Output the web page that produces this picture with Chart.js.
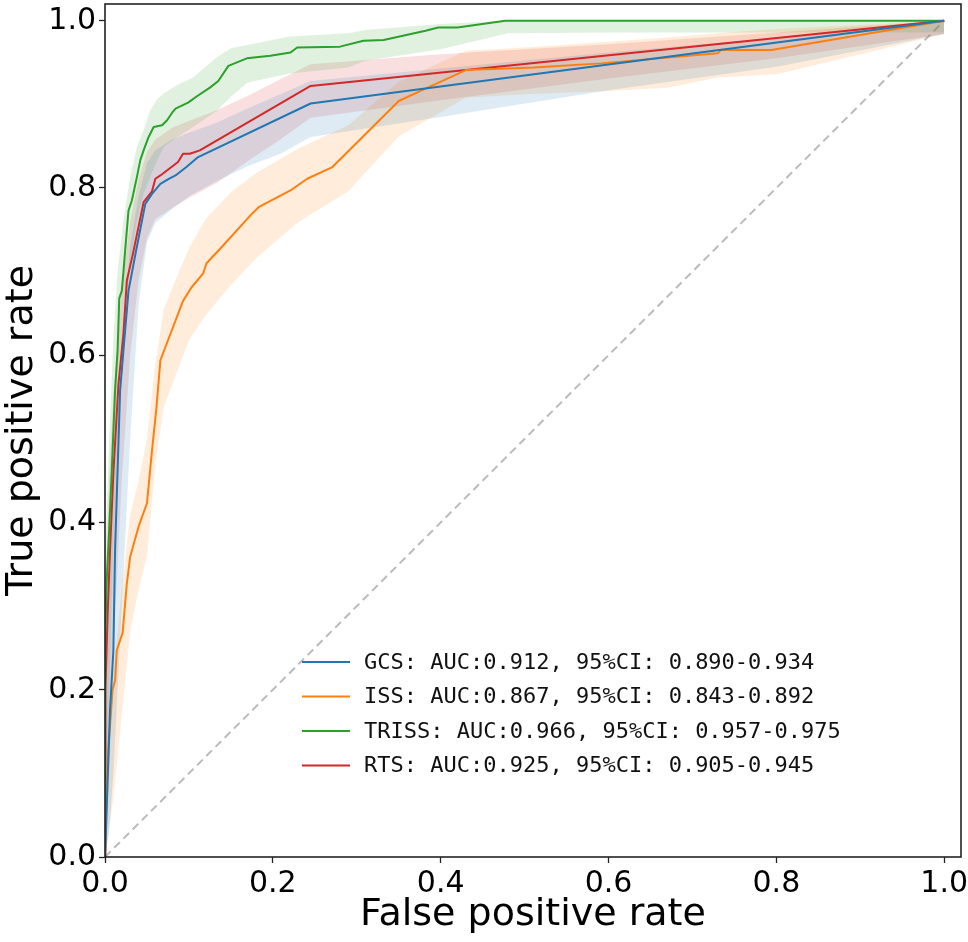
<!DOCTYPE html>
<html>
<head>
<meta charset="utf-8">
<script src="https://cdn.jsdelivr.net/npm/chart.js@4.4.1/dist/chart.umd.min.js"></script>
<style>
  html, body { margin: 0; padding: 0; background: #ffffff; }
  #wrap { width: 968px; height: 942px; }
  canvas { display: block; }
</style>
</head>
<body>
<div id="wrap"><canvas id="roc" width="968" height="942" style="width:968px;height:942px"></canvas></div>
<script>
// ---------- data ----------
const seriesNames = ['GCS', 'ISS', 'TRISS', 'RTS'];
const legendLabels = [
  'GCS: AUC:0.912, 95%CI: 0.890-0.934',
  'ISS: AUC:0.867, 95%CI: 0.843-0.892',
  'TRISS: AUC:0.966, 95%CI: 0.957-0.975',
  'RTS: AUC:0.925, 95%CI: 0.905-0.945'
];
const seriesColors = ['#1f77b4', '#ff7f0e', '#2ca02c', '#d62728'];

// mean ROC curves
const gcsFpr = [0, 0.002, 0.003, 0.006, 0.010, 0.012, 0.018, 0.022, 0.028, 0.037, 0.048, 0.056, 0.066, 0.076, 0.084, 0.097, 0.111, 0.245, 0.732, 1.0];
const gcsTpr = [0, 0.056, 0.088, 0.176, 0.247, 0.367, 0.558, 0.606, 0.677, 0.725, 0.781, 0.793, 0.805, 0.811, 0.815, 0.825, 0.837, 0.901, 0.965, 1.0];

const issFpr = [0, 0.002, 0.004, 0.009, 0.012, 0.014, 0.021, 0.026, 0.030, 0.040, 0.050, 0.056, 0.061, 0.064, 0.066, 0.093, 0.103, 0.117, 0.121, 0.135, 0.175, 0.183, 0.221, 0.241, 0.271, 0.350, 0.380, 0.430, 0.511, 0.591, 0.730, 0.734, 0.794, 1.0];
const issTpr = [0, 0.088, 0.128, 0.200, 0.211, 0.247, 0.268, 0.327, 0.359, 0.395, 0.423, 0.486, 0.534, 0.570, 0.594, 0.665, 0.681, 0.698, 0.710, 0.725, 0.769, 0.777, 0.797, 0.811, 0.825, 0.904, 0.918, 0.941, 0.944, 0.949, 0.961, 0.965, 0.965, 1.0];

const trissFpr = [0, 0, 0.002, 0.004, 0.008, 0.012, 0.015, 0.017, 0.020, 0.022, 0.024, 0.028, 0.032, 0.038, 0.042, 0.046, 0.052, 0.058, 0.068, 0.074, 0.080, 0.084, 0.099, 0.110, 0.125, 0.135, 0.147, 0.169, 0.197, 0.221, 0.229, 0.280, 0.308, 0.332, 0.382, 0.397, 0.420, 0.477, 1.0];
const trissTpr = [0, 0.25, 0.33, 0.37, 0.46, 0.558, 0.606, 0.668, 0.677, 0.700, 0.725, 0.773, 0.785, 0.813, 0.833, 0.845, 0.861, 0.873, 0.875, 0.881, 0.890, 0.895, 0.902, 0.910, 0.920, 0.928, 0.946, 0.955, 0.958, 0.962, 0.968, 0.969, 0.976, 0.977, 0.988, 0.992, 0.992, 1.0, 1.0];

const rtsFpr = [0, 0, 0.001, 0.003, 0.006, 0.010, 0.016, 0.022, 0.026, 0.033, 0.046, 0.056, 0.060, 0.066, 0.087, 0.093, 0.101, 0.113, 0.245, 1.0];
const rtsTpr = [0, 0.1, 0.2, 0.287, 0.367, 0.46, 0.565, 0.626, 0.689, 0.72, 0.783, 0.796, 0.811, 0.815, 0.831, 0.841, 0.841, 0.845, 0.922, 1.0];

// confidence bands
const gcsBandFpr   = [0, 0.005, 0.01, 0.02, 0.03, 0.04, 0.05, 0.06, 0.08, 0.1, 0.133, 0.17, 0.209, 0.245, 0.4, 0.6, 0.8, 1.0];
const gcsBandUpper = [0.2, 0.35, 0.45, 0.62, 0.73, 0.79, 0.83, 0.845, 0.858, 0.866, 0.878, 0.895, 0.912, 0.928, 0.943, 0.962, 0.98, 1.0];
const gcsBandLower = [0, 0.03, 0.1, 0.3, 0.5, 0.66, 0.735, 0.758, 0.775, 0.79, 0.808, 0.826, 0.841, 0.861, 0.885, 0.917, 0.945, 0.984];

const issBandFpr   = [0, 0.01, 0.02, 0.03, 0.04, 0.05, 0.06, 0.07, 0.08, 0.1, 0.12, 0.15, 0.18, 0.23, 0.29, 0.35, 0.43, 0.5, 0.6, 0.67, 0.73, 0.8, 0.9, 1.0];
const issBandUpper = [0.08, 0.22, 0.32, 0.41, 0.45, 0.50, 0.59, 0.655, 0.68, 0.728, 0.763, 0.795, 0.818, 0.847, 0.875, 0.927, 0.964, 0.968, 0.975, 0.98, 0.985, 0.99, 0.995, 1.0];
const issBandLower = [0, 0.07, 0.17, 0.27, 0.32, 0.36, 0.47, 0.538, 0.565, 0.618, 0.648, 0.684, 0.716, 0.759, 0.796, 0.862, 0.908, 0.912, 0.916, 0.920, 0.932, 0.936, 0.96, 0.984];

const trissBandFpr   = [0, 0.005, 0.01, 0.015, 0.022, 0.03, 0.038, 0.046, 0.054, 0.062, 0.07, 0.086, 0.105, 0.133, 0.15, 0.17, 0.22, 0.29, 0.31, 0.4, 0.48, 0.6, 1.0];
const trissBandUpper = [0.35, 0.5, 0.62, 0.70, 0.761, 0.813, 0.849, 0.869, 0.893, 0.906, 0.913, 0.923, 0.932, 0.956, 0.967, 0.971, 0.981, 0.985, 0.989, 0.996, 1.0, 1.0, 1.0];
const trissBandLower = [0, 0.2, 0.38, 0.5, 0.6, 0.71, 0.761, 0.793, 0.813, 0.833, 0.849, 0.861, 0.873, 0.892, 0.909, 0.926, 0.937, 0.944, 0.952, 0.966, 0.985, 0.986, 0.986];

const rtsBandFpr   = [0, 0.005, 0.01, 0.02, 0.03, 0.04, 0.05, 0.06, 0.08, 0.1, 0.133, 0.17, 0.209, 0.245, 0.4, 0.6, 0.8, 1.0];
const rtsBandUpper = [0.3, 0.45, 0.55, 0.68, 0.76, 0.81, 0.843, 0.858, 0.872, 0.880, 0.893, 0.91, 0.93, 0.948, 0.96, 0.972, 0.986, 1.0];
const rtsBandLower = [0, 0.1, 0.25, 0.45, 0.6, 0.69, 0.74, 0.763, 0.776, 0.788, 0.806, 0.832, 0.858, 0.884, 0.905, 0.931, 0.955, 0.984];

// chance diagonal
const chanceFpr = [0, 1];
const chanceTpr = [0, 1];

const xTicks = [0.0, 0.2, 0.4, 0.6, 0.8, 1.0];
const yTicks = [0.0, 0.2, 0.4, 0.6, 0.8, 1.0];
const xTitle = 'False positive rate';
const yTitle = 'True positive rate';

// ---------- build datasets ----------
const toPts = (xs, ys) => xs.map((x, i) => ({ x: x, y: ys[i] }));
function hexA(hex, a) {
  const n = parseInt(hex.slice(1), 16);
  return `rgba(${(n >> 16) & 255},${(n >> 8) & 255},${n & 255},${a})`;
}

const curves = [
  [gcsFpr, gcsTpr], [issFpr, issTpr], [trissFpr, trissTpr], [rtsFpr, rtsTpr]
];
const bands = [
  [gcsBandFpr, gcsBandLower, gcsBandUpper],
  [issBandFpr, issBandLower, issBandUpper],
  [trissBandFpr, trissBandLower, trissBandUpper],
  [rtsBandFpr, rtsBandLower, rtsBandUpper]
];

const datasets = [];
curves.forEach((c, i) => {
  datasets.push({
    label: legendLabels[i],
    isLegend: true,
    data: toPts(c[0], c[1]),
    borderColor: seriesColors[i],
    backgroundColor: seriesColors[i],
    borderWidth: 2,
    pointRadius: 0,
    tension: 0,
    fill: false,
    borderJoinStyle: 'round',
    order: 0
  });
});
datasets.push({
  label: 'chance',
  data: toPts(chanceFpr, chanceTpr),
  borderColor: 'rgba(175,175,175,0.85)',
  borderWidth: 2,
  borderDash: [8, 5],
  pointRadius: 0,
  fill: false,
  order: 2
});
bands.forEach((b, i) => {
  datasets.push({
    label: seriesNames[i] + ' upper',
    data: toPts(b[0], b[2]),
    borderWidth: 0,
    borderColor: 'rgba(0,0,0,0)',
    backgroundColor: hexA(seriesColors[i], 0.15),
    pointRadius: 0,
    tension: 0,
    fill: '+1',
    order: 1
  });
  datasets.push({
    label: seriesNames[i] + ' lower',
    data: toPts(b[0], b[1]),
    borderWidth: 0,
    borderColor: 'rgba(0,0,0,0)',
    backgroundColor: 'rgba(0,0,0,0)',
    pointRadius: 0,
    tension: 0,
    fill: false,
    order: 1
  });
});

// ---------- plugins ----------
const framePlugin = {
  id: 'frame',
  afterDatasetsDraw(chart) {
    const { ctx, chartArea: a } = chart;
    ctx.save();
    ctx.strokeStyle = '#222222';
    ctx.lineWidth = 1.6;
    ctx.strokeRect(a.left, a.top, a.right - a.left, a.bottom - a.top);
    ctx.restore();
  }
};

const legendPlugin = {
  id: 'customLegend',
  afterDraw(chart, args, opts) {
    const { ctx } = chart;
    ctx.save();
    ctx.font = opts.font;
    ctx.textBaseline = 'middle';
    ctx.textAlign = 'left';
    let row = 0;
    chart.data.datasets.forEach(ds => {
      if (!ds.isLegend) return;
      const y = opts.y0 + row * opts.rowGap;
      ctx.strokeStyle = ds.borderColor;
      ctx.lineWidth = 2;
      ctx.beginPath();
      ctx.moveTo(opts.x0, y);
      ctx.lineTo(opts.x0 + opts.lineLen, y);
      ctx.stroke();
      ctx.fillStyle = '#111111';
      ctx.fillText(ds.label, opts.x0 + opts.lineLen + opts.gap, y + 1);
      row++;
    });
    ctx.restore();
  }
};

const tickFont = { family: 'DejaVu Sans', size: 30 };
const titleFont = { family: 'DejaVu Sans', size: 38, lineHeight: 1 };

new Chart(document.getElementById('roc'), {
  type: 'line',
  data: { datasets: datasets },
  options: {
    responsive: false,
    animation: false,
    devicePixelRatio: 1,
    layout: { padding: { left: 0, top: 4, right: 7, bottom: 0 } },
    plugins: {
      legend: { display: false },
      tooltip: { enabled: false },
      customLegend: {
        x0: 302, y0: 662, rowGap: 34.5, lineLen: 48, gap: 14,
        font: '22px "DejaVu Sans Mono", monospace'
      }
    },
    scales: {
      x: {
        type: 'linear',
        min: 0, max: 1.02,
        border: { display: false },
        grid: { display: true, drawOnChartArea: false, drawTicks: true, tickLength: 6, tickWidth: 1.3, tickColor: '#222222' },
        ticks: { color: '#000000', font: tickFont, padding: 3, maxRotation: 0, autoSkip: false,
                 callback: v => Number(v).toFixed(1) },
        afterBuildTicks: s => { s.ticks = xTicks.map(v => ({ value: v })); },
        afterFit: s => { s.height = 85; s.paddingLeft = 0; s.paddingRight = 0; },
        title: { display: true, text: xTitle, color: '#000000', font: titleFont, padding: { top: 0, bottom: 8 } }
      },
      y: {
        type: 'linear',
        min: 0, max: 1.02,
        border: { display: false },
        grid: { display: true, drawOnChartArea: false, drawTicks: true, tickLength: 6, tickWidth: 1.3, tickColor: '#222222' },
        ticks: { color: '#000000', font: tickFont, padding: 3, autoSkip: false,
                 callback: v => Number(v).toFixed(1) },
        afterBuildTicks: s => { s.ticks = yTicks.map(v => ({ value: v })); },
        afterFit: s => { s.width = 105; s.paddingTop = 0; s.paddingBottom = 0; },
        title: { display: true, text: yTitle, color: '#000000', font: titleFont, padding: { top: 3, bottom: 0 } }
      }
    }
  },
  plugins: [framePlugin, legendPlugin]
});
</script>
</body>
</html>
